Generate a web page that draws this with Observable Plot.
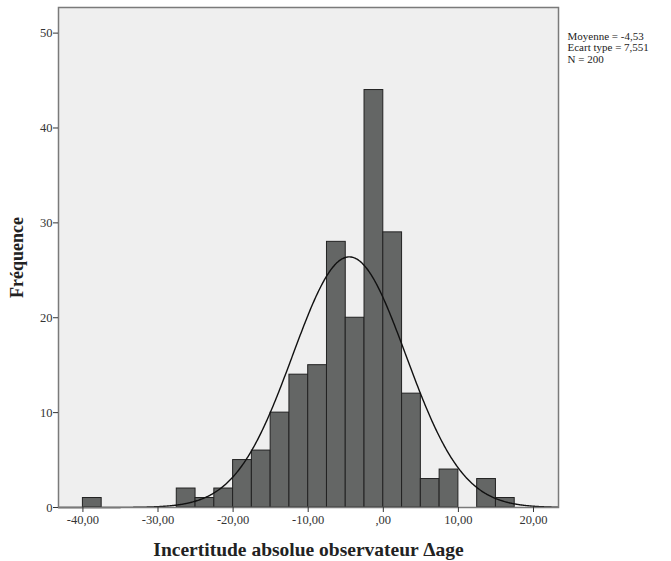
<!DOCTYPE html>
<html>
<head>
<meta charset="utf-8">
<script src="https://cdn.jsdelivr.net/npm/d3@7"></script>
<script src="https://cdn.jsdelivr.net/npm/@observablehq/plot@0.6"></script>
<style>
  html, body { margin: 0; padding: 0; background: #ffffff; }
  #chart svg { display: block; }
</style>
</head>
<body>
<div id="chart"></div>
<script>
// Bin edges (width 2.5) and frequencies
const binStart = [-40, -27.5, -25, -22.5, -20, -17.5, -15, -12.5, -10, -7.5, -5, -2.5, 0, 2.5, 5, 7.5, 12.5, 15];
const binCount = [1, 2, 1, 2, 5, 6, 10, 14, 15, 28, 20, 44, 29, 12, 3, 4, 3, 1];
const binWidth = 2.5;

// Reported statistics
const mean = -4.53;
const sd = 7.551;
const n = 200;
const statsLines = ["Moyenne = -4,53", "Ecart type = 7,551", "N = 200"];

// Axis ticks
const xTicks = [-40, -30, -20, -10, 0, 10, 20];
const yTicks = [0, 10, 20, 30, 40, 50];

const bins = binStart.map((x0, i) => ({x1: x0, x2: x0 + binWidth, y: binCount[i]}));

// Fitted normal curve from the reported mean, sd and N
const curve = d3.range(-43.25, 23.33, 0.1).map(x => ({
  x,
  y: n * binWidth * Math.exp(-0.5 * ((x - mean) / sd) ** 2) / (sd * Math.sqrt(2 * Math.PI))
}));

const fmt = d => d === 0 ? ",00" : d.toFixed(2).replace(".", ",");
const serif = "'Liberation Serif', 'DejaVu Serif', serif";

const chart = Plot.plot({
  width: 671,
  height: 561,
  marginLeft: 58,
  marginRight: 113,
  marginTop: 7,
  marginBottom: 54,
  style: {fontFamily: serif, background: "#ffffff"},
  x: {domain: [-43.25, 23.33]},
  y: {domain: [0, 52.7]},
  marks: [
    Plot.frame({fill: "#efefef", stroke: null}),
    Plot.rectY(bins, {x1: "x1", x2: "x2", y: "y", fill: "#646665", stroke: "#222", strokeWidth: 1}),
    Plot.line(curve, {x: "x", y: "y", stroke: "#111", strokeWidth: 1.4, curve: "basis"}),
    Plot.frame({stroke: "#7a7a7a", strokeWidth: 1.5}),
    Plot.axisX({ticks: xTicks, tickFormat: fmt, tickSize: 5, tickPadding: 3, fontSize: 12.5, color: "#333", label: null}),
    Plot.axisY({ticks: yTicks, tickFormat: d => String(d), tickSize: 5, tickPadding: 1, fontSize: 12.5, color: "#333", label: null}),
    Plot.text(["Incertitude absolue observateur Δage"], {frameAnchor: "bottom", dy: 48, lineAnchor: "bottom", textAnchor: "middle", fontSize: 19.5, fontWeight: "bold", fill: "#222"}),
    Plot.text(["Fréquence"], {frameAnchor: "left", dx: -41, rotate: -90, textAnchor: "middle", lineAnchor: "middle", fontSize: 18, fontWeight: "bold", fill: "#222"}),
    Plot.text([statsLines.join("\n")], {frameAnchor: "top-right", dx: 9, dy: 24, textAnchor: "start", lineAnchor: "top", lineHeight: 1.05, fontSize: 11, letterSpacing: "0.5px", fill: "#222", style: {letterSpacing: "0.5px"}})
  ]
});

document.getElementById("chart").appendChild(chart);
</script>
</body>
</html>
